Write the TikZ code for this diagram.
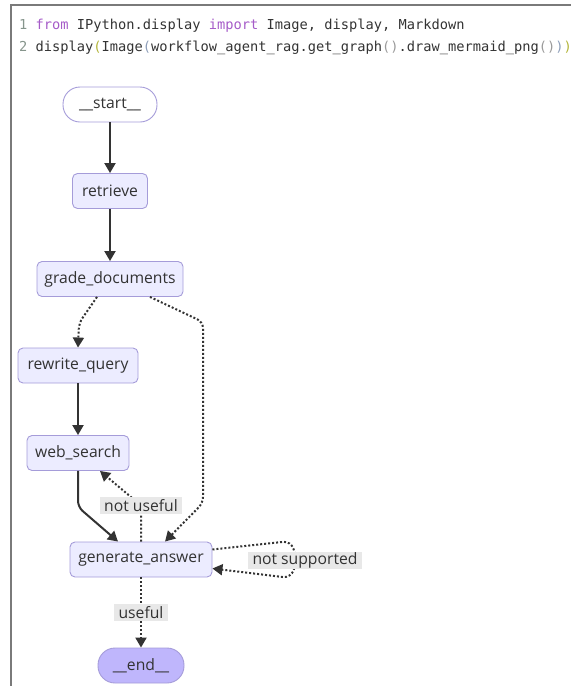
\documentclass[tikz,border=0pt]{standalone}
\usepackage{fontspec}
\setmainfont{Open Sans}
\setmonofont{DejaVu Sans Mono}
\usetikzlibrary{arrows.meta}
\definecolor{nodefill}{HTML}{ECECFF}
\definecolor{nodeline}{HTML}{A59CD9}
\definecolor{endfill}{HTML}{BFB6FC}
\definecolor{edgecol}{HTML}{333333}
\definecolor{labelfill}{HTML}{E8E8E8}
\definecolor{kwcol}{HTML}{A55BC8}
\definecolor{numcol}{HTML}{86958C}
\definecolor{parone}{HTML}{B3B53A}
\definecolor{partwo}{HTML}{8C9DB8}
\definecolor{parthree}{HTML}{9A9A9A}
\definecolor{framecol}{HTML}{7A7A7A}
\begin{document}
\begin{tikzpicture}[x=1pt,y=-1pt,
  every node/.style={font=\fontsize{15.7}{18}\selectfont, text=edgecol},
  box/.style={draw=nodeline, fill=nodefill, line width=0.9pt, rounded corners=5pt, minimum height=35pt, inner xsep=6pt},
  terminal/.style={draw=nodeline, line width=0.9pt, rounded corners=17pt, minimum height=35pt},
  solidedge/.style={draw=edgecol, line width=2pt, -{Triangle[length=10pt,width=11pt]}},
  dotedge/.style={draw=edgecol, line width=2pt, dotted, -{Triangle[length=10pt,width=11pt]}},
  edgelabel/.style={fill=labelfill, inner xsep=4.5pt, inner ysep=0pt, minimum height=17pt},
  code/.style={font=\fontsize{13.7}{16}\ttfamily, anchor=west, inner sep=0pt}]
\useasboundingbox (0,0) rectangle (571,686);
\draw[framecol, line width=1.2pt] (11,686) -- (11,5) -- (571,5);
\node[code] (line1) at (19,26) {\textcolor{numcol}{1} \textcolor{kwcol}{from} IPython.display \textcolor{kwcol}{import} Image, display, Markdown};
\node[code] (line2) at (19,48) {\textcolor{numcol}{2} display\textcolor{parone}{(}Image\textcolor{partwo}{(}workflow\_agent\_rag.get\_graph\textcolor{parthree}{()}.draw\_mermaid\_png\textcolor{parthree}{()}\textcolor{partwo}{)}\textcolor{parone}{)}};
\node[terminal, minimum width=94pt, fill=white] (start) at (110,104.5) {\_\_start\_\_};
\node[box, minimum width=75pt] (retrieve) at (110,191) {retrieve};
\node[box, minimum width=146pt] (grade) at (110,279) {grade\_documents};
\node[box, minimum width=120pt] (rewrite) at (78,365.5) {rewrite\_query};
\node[box, minimum width=102pt] (web) at (78,453) {web\_search};
\node[box, minimum width=142pt] (generate) at (141,559.5) {generate\_answer};
\node[terminal, minimum width=86pt, fill=endfill] (finish) at (141,665.5) {\_\_end\_\_};
\coordinate (gr1) at (79,323);
\coordinate (gg1) at (203,322);
\coordinate (gg2) at (203,503);
\coordinate (wg1) at (78,507);
\coordinate (nu) at (141,505.5);
\coordinate (ns1) at (291,541);
\coordinate (ns2) at (297,560);
\coordinate (ns3) at (291,578);
\draw[solidedge] (start) -- (retrieve);
\draw[solidedge] (retrieve) -- (grade);
\draw[dotedge, rounded corners=6pt] ([xshift=-13pt]grade.south) -- (gr1) -- (rewrite.north);
\draw[dotedge, rounded corners=6pt] ([xshift=40pt]grade.south) -- (gg1) -- (gg2) -- ([xshift=24pt]generate.north);
\draw[solidedge] (rewrite) -- (web);
\draw[solidedge, rounded corners=6pt] (web.south) -- (wg1) -- ([xshift=-23pt]generate.north);
\draw[dotedge] (generate.north) -- (nu) -- ([xshift=22pt]web.south);
\draw[dotedge, rounded corners=8pt] ([yshift=10pt]generate.east) -- (ns1) -- (ns2) -- (ns3) -- ([yshift=-9pt]generate.east);
\draw[dotedge] (generate) -- (finish) node[edgelabel, midway] (useful) {useful};
\node[edgelabel] (notuseful) at (nu) {not useful};
\node[edgelabel] (notsupported) at (305,560) {not supported};
\end{tikzpicture}
\end{document}
